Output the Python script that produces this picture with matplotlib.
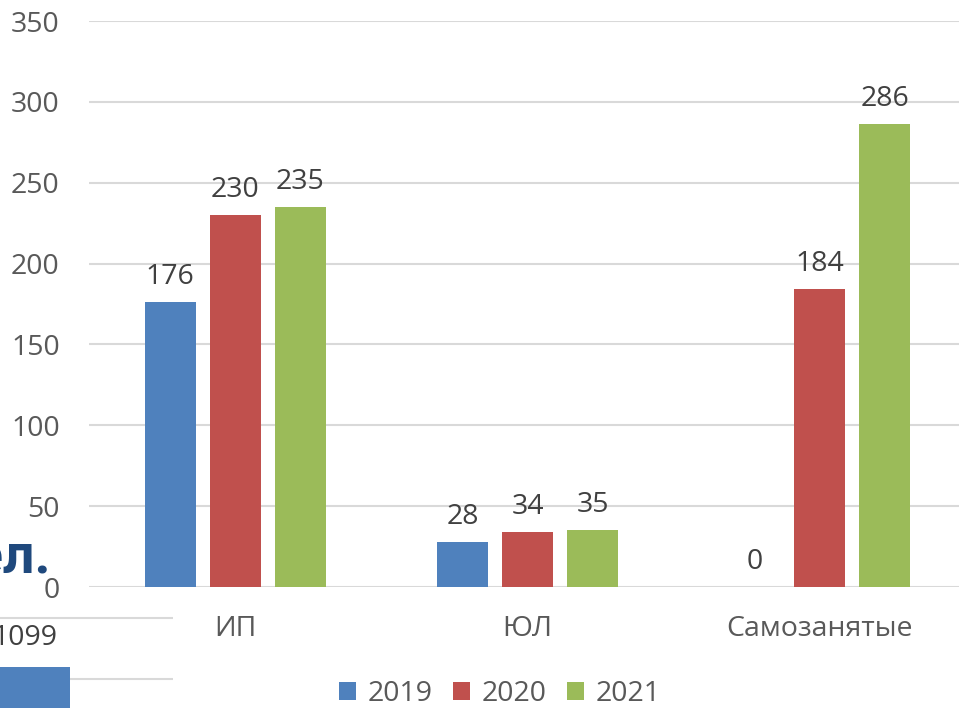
import matplotlib
matplotlib.use("Agg")
import matplotlib.pyplot as plt
import numpy as np

categories = ["ИП", "ЮЛ", "Самозанятые"]
years = ["2019", "2020", "2021"]
values_2019 = [176, 28, 0]
values_2020 = [230, 34, 184]
values_2021 = [235, 35, 286]
yticks = [0, 50, 100, 150, 200, 250, 300, 350]
colors = ["#4F81BD", "#C0504D", "#9BBB59"]

# fragment of an overlapping slide element (bottom-left)
fragment_values = [1099]
fragment_grid = [1000, 1500]

plt.rcParams['font.family'] = ['Open Sans', 'DejaVu Sans']

W, H = 959, 708
fig = plt.figure(figsize=(W / 100, H / 100), dpi=100)

def px_axes(x0, x1, ytop, ybot):
    return [x0 / W, (H - ybot) / H, (x1 - x0) / W, (ybot - ytop) / H]

FS = 20.5
ax = fig.add_axes(px_axes(89, 966, 21, 587))
series = [values_2019, values_2020, values_2021]
x = np.arange(len(categories))
off = 0.2226
wid = 0.1747
for i, (vals, c, yr) in enumerate(zip(series, colors, years)):
    bars = ax.bar(x + (i - 1) * off, vals, width=wid, color=c, label=yr, zorder=3)
    ax.bar_label(bars, labels=[str(v) for v in vals], padding=8,
                 fontsize=FS, color="#404040")

ax.set_xlim(-0.5, 2.5)
ax.set_ylim(0, 350)
ax.set_yticks(yticks)
ax.set_yticklabels([str(t) for t in yticks])
ax.set_xticks(x)
ax.set_xticklabels(categories)
ax.tick_params(axis='y', length=0, pad=21, labelsize=FS, labelcolor="#595959")
ax.tick_params(axis='x', length=0, pad=20, labelsize=FS, labelcolor="#595959")
for s in ax.spines.values():
    s.set_visible(False)
ax.yaxis.grid(True, color="#D9D9D9", linewidth=1.5, zorder=0)
ax.set_axisbelow(True)

leg = fig.legend(loc="center", bbox_to_anchor=(500 / W, (H - 694) / H), ncol=3,
                 frameon=False, fontsize=FS, handlelength=0.6, handleheight=0.6,
                 handletextpad=0.4, columnspacing=0.72, labelcolor="#595959",
                 borderpad=0.2)

# overlapping fragment from another slide element
ax2 = fig.add_axes(px_axes(0, 173, 600, 708))
ax2.set_xlim(0, 173)
ax2.set_ylim(760.75, 1651.75)
fb = ax2.bar([20], fragment_values, width=100, color="#4F81BD", zorder=3)
for g in fragment_grid:
    ax2.axhline(g, color="#D9D9D9", linewidth=1.5, zorder=0)
ax2.text(-8, fragment_values[0] + 240, str(fragment_values[0]), fontsize=FS,
         color="#404040", ha="left", va="center")
ax2.axis("off")

fig.text(51 / W, (H - 573) / H, "ел.", ha="right", va="baseline",
         fontsize=40, fontweight="bold", color="#1F497D",
         family=["Liberation Sans Narrow", "Roboto", "DejaVu Sans"])

fig.savefig("out.png", dpi=100)
